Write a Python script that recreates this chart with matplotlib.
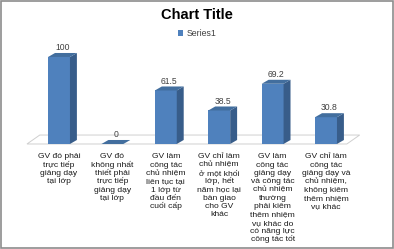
import matplotlib
matplotlib.use('Agg')
import matplotlib.pyplot as plt
from matplotlib.patches import Polygon, Rectangle

plt.rcParams['font.family'] = ['Liberation Sans', 'DejaVu Sans']

categories = [
    "GV đó phải\ntrực tiếp\ngiảng dạy\ntại lớp",
    "GV đó\nkhông nhất\nthiết phải\ntrực tiếp\ngiảng dạy\ntại lớp",
    "GV làm\ncông tác\nchủ nhiệm\nliên tục tại\n1 lớp từ\nđầu đến\ncuối cấp",
    "GV chỉ làm\nchủ nhiệm\nở một khối\nlớp, hết\nnăm học lại\nbàn giao\ncho GV\nkhác",
    "GV làm\ncông tác\ngiảng dạy\nvà công tác\nchủ nhiệm\nthường\nphải kiêm\nthêm nhiệm\nvụ khác do\ncó năng lực\ncông tác tốt",
    "GV chỉ làm\ncông tác\ngiảng dạy và\nchủ nhiệm,\nkhông kiêm\nthêm nhiệm\nvụ khác",
]
values = [100, 0, 61.5, 38.5, 69.2, 30.8]
value_labels = ["100", "0", "61.5", "38.5", "69.2", "30.8"]
series_name = "Series1"

FRONT = '#4F81BD'
SIDE = '#385D8A'
TOP = '#426E9E'

fig = plt.figure(figsize=(3.94, 2.49), dpi=100)
fig.patch.set_facecolor('white')
ax = fig.add_axes([0, 0, 1, 1])
ax.set_xlim(-1.105, 6.273)
ax.set_ylim(-120.7, 165.5)
ax.axis('off')

# outer border
fig.patches.append(Rectangle((0.002, 0.003), 0.995, 0.993, transform=fig.transFigure,
                             fill=False, edgecolor='#8c8c8c', lw=1.2))

x = list(range(len(values)))
w = 0.41
dx, dy = 0.13, 4.6

# floor of the 3d chart
fx0, fx1 = -0.6, 5.39
fdx, fdy = 0.24, 10.3
ax.add_patch(Polygon([(fx0, 0), (fx1, 0), (fx1 + fdx, fdy), (fx0 + fdx, fdy)],
                     closed=True, facecolor='white', edgecolor='#cfcfcf', lw=0.7,
                     zorder=1))

bars = ax.bar(x, values, width=w, color=FRONT, zorder=3, label=series_name)
for xi, v in zip(x, values):
    l, r = xi - w / 2, xi + w / 2
    ax.add_patch(Polygon([(r, 0), (r + dx, dy), (r + dx, v + dy), (r, v)],
                         closed=True, facecolor=SIDE, edgecolor='none', zorder=3))
    ax.add_patch(Polygon([(l, v), (r, v), (r + dx, v + dy), (l + dx, v + dy)],
                         closed=True, facecolor=TOP, edgecolor='none', zorder=3))

for xi, v, lab in zip(x, values, value_labels):
    ax.text(xi + dx / 2, v + dy + 1.0, lab, ha='center', va='bottom',
            fontsize=6.2, color='#404040', zorder=4)

# category labels: one line at a time so the Vietnamese accents
# don't stretch the line pitch
line_px = 8.3
for xi, cat in zip(x, categories):
    for k, line in enumerate(cat.split('\n')):
        ax.annotate(line, xy=(xi, -16.5), xytext=(0, -k * line_px),
                    textcoords='offset pixels', ha='center', va='baseline',
                    fontsize=6.1, color='#1a1a1a')

fig.text(0.5, 0.94, "Chart Title", ha='center', va='center',
         fontsize=10.5, fontweight='bold', color='black')

ax.legend(loc='center', bbox_to_anchor=(0.5, 0.865), bbox_transform=fig.transFigure,
          frameon=False, fontsize=6.3, handlelength=0.6, handleheight=0.6,
          handletextpad=0.4, labelcolor='#404040')

fig.savefig('out.png', dpi=100, facecolor='white')
